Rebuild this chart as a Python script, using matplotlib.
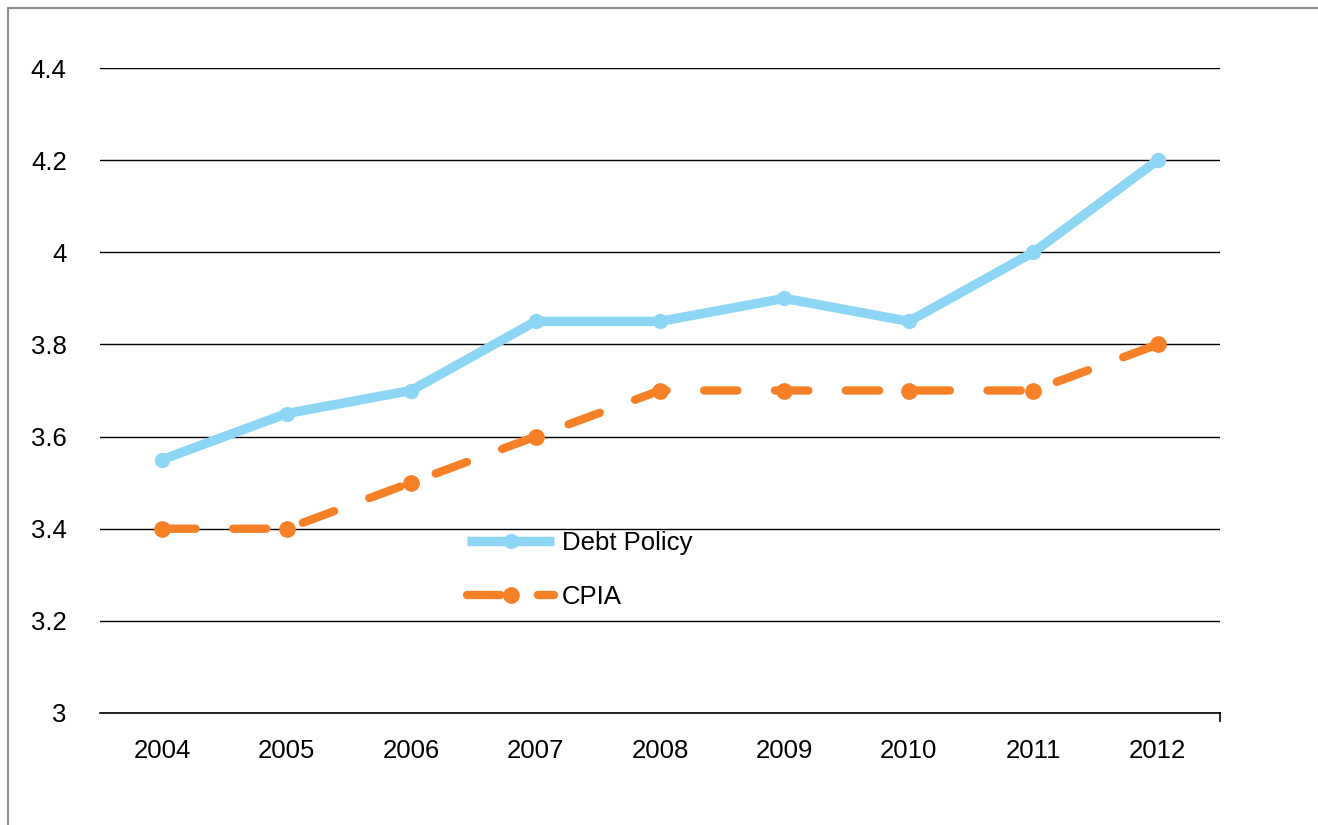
import matplotlib.pyplot as plt
from matplotlib.patches import Rectangle

years = ["2004", "2005", "2006", "2007", "2008", "2009", "2010", "2011", "2012"]
debt_policy = [3.55, 3.65, 3.70, 3.85, 3.85, 3.90, 3.85, 4.00, 4.20]
cpia = [3.40, 3.40, 3.50, 3.60, 3.70, 3.70, 3.70, 3.70, 3.80]
y_ticks = [3, 3.2, 3.4, 3.6, 3.8, 4, 4.2, 4.4]
y_labels = ["3", "3.2", "3.4", "3.6", "3.8", "4", "4.2", "4.4"]

BLUE = "#8ed6f6"
ORANGE = "#f58025"

plt.rcParams["font.family"] = ["Liberation Sans", "DejaVu Sans"]

fig = plt.figure(figsize=(13.18, 8.25), dpi=100)
ax = fig.add_axes([100 / 1318, 1 - 713 / 825, 1120 / 1318, 645 / 825])

# outer chart border (left and top edges visible)
fig.patches.append(Rectangle((8 / 1318, -0.05), 1.1, 1 - 8 / 825 + 0.05,
                             transform=fig.transFigure, fill=False,
                             edgecolor="#8c8c8c", linewidth=1.5))

x = list(range(len(years)))
ax.plot(x, debt_policy, color=BLUE, linewidth=6.8, marker="o", markersize=10,
        solid_capstyle="butt", label="Debt Policy", zorder=3)
ax.plot(x, cpia, color=ORANGE, linewidth=6, marker="o", markersize=11,
        linestyle=(0, (4, 4.5)), dash_capstyle="round", label="CPIA", zorder=3)

ax.set_xlim(-0.5, len(years) - 0.5)
ax.set_ylim(3, 4.4)
ax.set_yticks(y_ticks)
ax.set_yticklabels(y_labels)
ax.set_xticks(x)
ax.set_xticklabels(years)
ax.yaxis.grid(True, color="black", linewidth=1)
ax.set_axisbelow(True)
ax.tick_params(axis="both", length=0, labelsize=18.5)
ax.tick_params(axis="y", pad=24)
ax.tick_params(axis="x", pad=19)
for side in ["left", "top", "right"]:
    ax.spines[side].set_visible(False)
ax.spines["bottom"].set_linewidth(1.2)
# closing tick at the right end of the category axis
ax.plot([1, 1], [0, -0.012], transform=ax.transAxes, color="black",
        linewidth=1.2, clip_on=False)

ax.legend(loc="center left", bbox_to_anchor=(344 / 1120, (713 - 570) / 645),
          frameon=False, fontsize=18.5, handlelength=3.4, labelspacing=1.15,
          handletextpad=0.3)

fig.savefig("out.png", dpi=100)
